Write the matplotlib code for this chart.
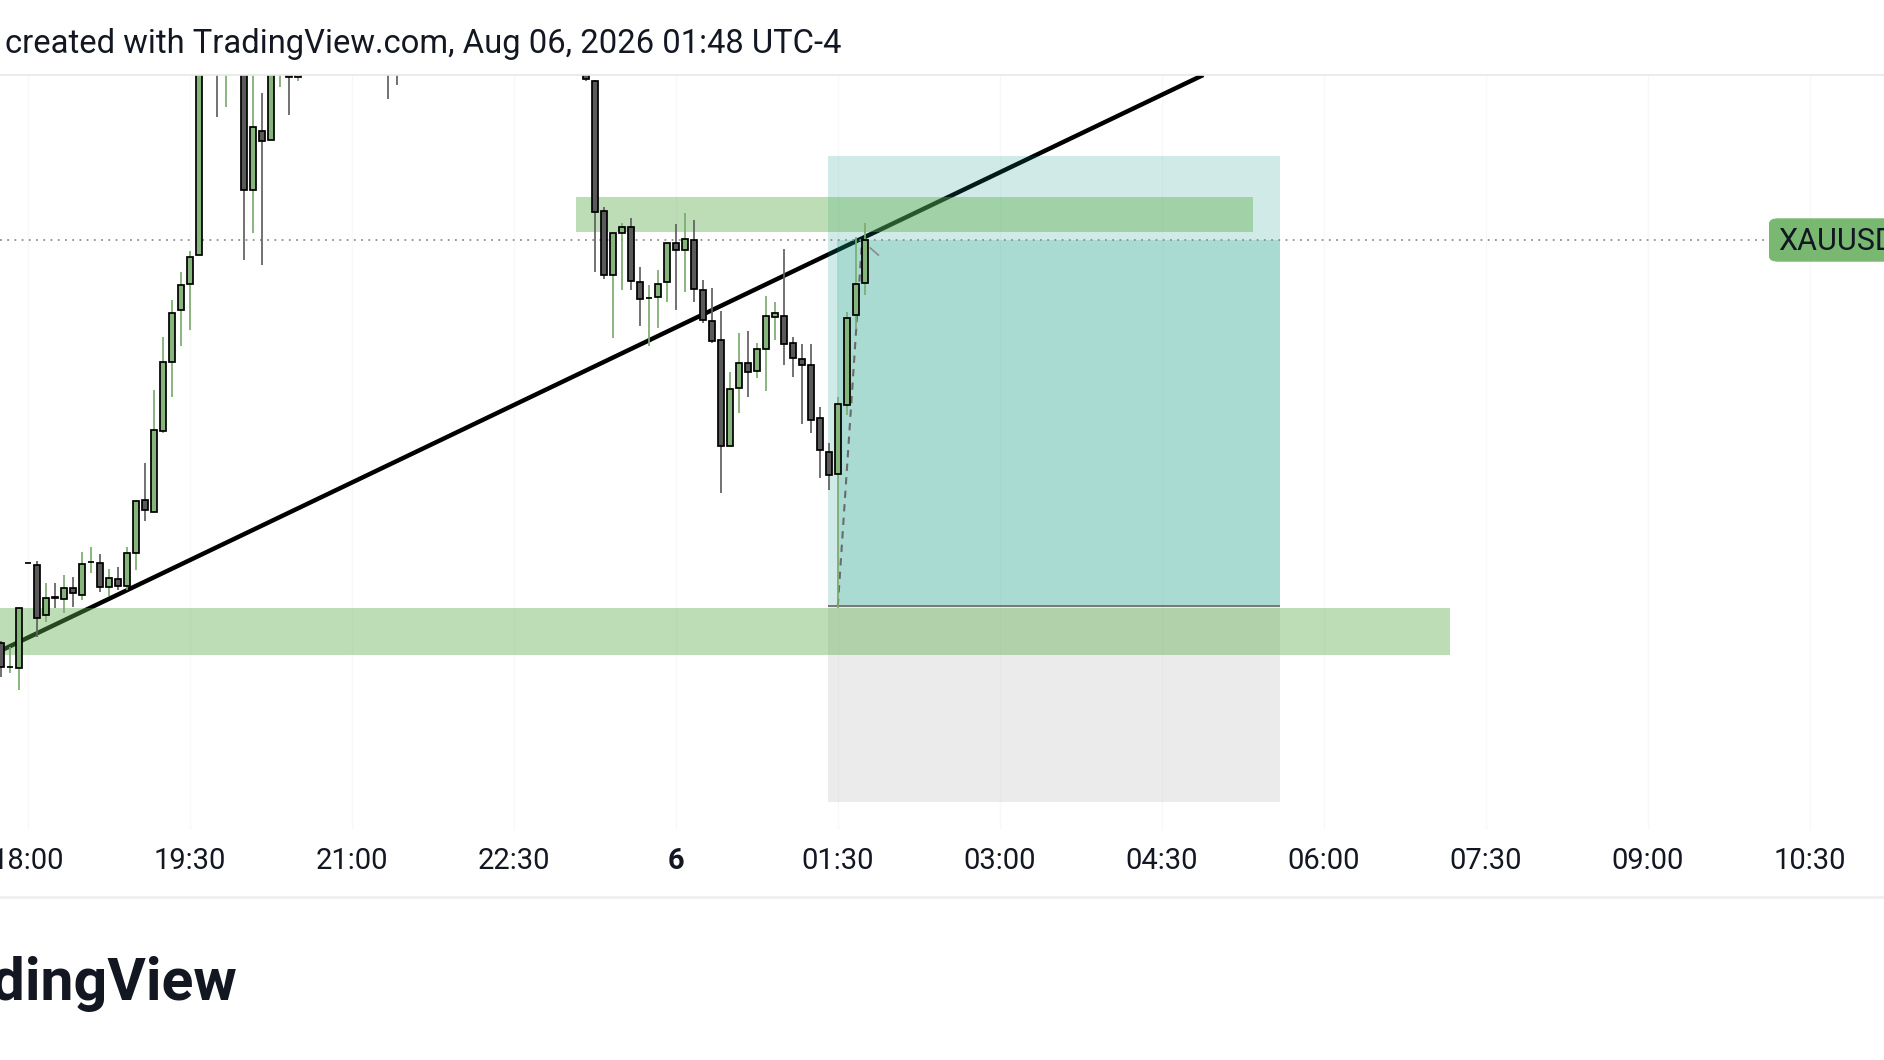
import matplotlib
matplotlib.use("Agg")
import matplotlib.pyplot as plt
from matplotlib.patches import Rectangle, FancyBboxPatch
from matplotlib.lines import Line2D

plt.rcParams['font.family'] = ['Roboto', 'DejaVu Sans']

# ---------------- data (5-minute bars, bar 0 = 18:00) ----------------
bar_idx = [-3, -2, -1, 0, 1, 2, 3, 4, 5, 6, 7, 8, 9, 10, 11, 12, 13, 14, 15, 16, 17, 18, 19,
           21, 22, 24, 25, 26, 27, 28, 29, 30, 40, 41,
           62, 63, 64, 65, 66, 67, 68, 69, 70, 71, 72, 73, 74, 75, 76, 77, 78, 79, 80,
           81, 82, 83, 84, 85, 86, 87, 88, 89, 90, 91, 92, 93]
opens = [3393.2, 3390.8, 3390.7, 3401.2, 3401.0, 3396.0, 3397.8, 3397.6, 3398.7, 3398.0, 3401.3,
         3401.2, 3398.8, 3399.6, 3398.9, 3402.2, 3407.5, 3406.3, 3414.4, 3421.3, 3426.5, 3429.1,
         3432.0,
         3456.0, 3452.0, 3455.0, 3438.5, 3444.4, 3443.5, 3452.5, 3453.0, 3449.8, 3455.0, 3453.0,
         3451.0, 3449.4, 3436.4, 3430.0, 3434.2, 3434.8, 3429.3, 3427.7, 3427.8, 3429.3, 3433.2,
         3432.5, 3433.5, 3428.5, 3425.4, 3423.5, 3412.9, 3418.7, 3421.2, 3420.4, 3422.6, 3425.8,
         3425.9, 3423.2, 3421.6, 3421.0, 3415.7, 3412.3, 3410.1, 3417.0, 3426.0, 3429.2]
highs = [3393.4, 3392.8, 3396.7, 3401.3, 3401.4, 3399.2, 3399.2, 3400.0, 3399.8, 3402.3, 3402.8,
         3402.1, 3400.6, 3400.8, 3402.8, 3407.5, 3411.2, 3418.5, 3423.8, 3427.5, 3430.3, 3432.4,
         3458.0,
         3458.0, 3456.0, 3456.0, 3452.0, 3448.2, 3454.0, 3455.0, 3454.0, 3453.0, 3456.0, 3454.0,
         3452.0, 3449.5, 3436.8, 3434.2, 3435.2, 3435.7, 3430.8, 3429.0, 3430.5, 3433.2, 3435.1,
         3436.2, 3435.5, 3429.5, 3428.7, 3426.4, 3420.3, 3424.2, 3424.4, 3423.2, 3427.9, 3427.3,
         3432.6, 3423.8, 3423.1, 3423.1, 3416.8, 3413.2, 3417.8, 3426.3, 3433.8, 3435.2]
lows = [3389.8, 3390.2, 3388.5, 3401.2, 3393.8, 3395.3, 3396.7, 3396.2, 3396.8, 3397.5, 3400.2,
        3398.3, 3397.9, 3398.5, 3398.5, 3400.5, 3405.4, 3406.3, 3414.2, 3417.8, 3422.9, 3424.5,
        3432.0,
        3445.8, 3446.8, 3431.5, 3434.2, 3431.0, 3443.5, 3448.8, 3446.0, 3449.4, 3447.6, 3449.0,
        3449.4, 3430.3, 3429.6, 3423.7, 3428.5, 3428.5, 3424.9, 3422.9, 3424.7, 3427.3, 3426.5,
        3428.3, 3427.3, 3425.2, 3423.2, 3408.2, 3412.9, 3416.2, 3417.8, 3419.7, 3418.4, 3423.5,
        3421.0, 3419.8, 3415.1, 3414.2, 3409.7, 3408.5, 3396.7, 3416.0, 3424.7, 3428.0]
closes = [3390.8, 3390.8, 3396.7, 3401.2, 3395.7, 3397.7, 3397.7, 3398.7, 3398.2, 3401.1, 3401.3,
          3398.8, 3399.7, 3398.9, 3402.2, 3407.4, 3406.5, 3414.5, 3421.3, 3426.2, 3429.0, 3431.8,
          3457.0,
          3451.5, 3455.0, 3438.5, 3444.8, 3443.4, 3452.5, 3454.0, 3449.8, 3452.0, 3452.0, 3451.0,
          3449.6, 3436.3, 3430.0, 3434.2, 3434.8, 3429.4, 3427.6, 3427.7, 3429.1, 3433.2, 3432.5,
          3433.6, 3428.6, 3425.5, 3423.4, 3412.9, 3418.6, 3421.2, 3420.3, 3422.6, 3425.9, 3426.2,
          3423.1, 3421.7, 3421.0, 3415.5, 3412.5, 3410.0, 3417.1, 3425.7, 3429.1, 3433.5]

tick_bars = [0, 18, 36, 54, 72, 90, 108, 126, 144, 162, 180, 198]
tick_labels = ["18:00", "19:30", "21:00", "22:30", "6", "01:30", "03:00", "04:30",
               "06:00", "07:30", "09:00", "10:30"]

last_price = 3433.5
symbol = "XAUUSD"

# drawings
trend_bars = [-1, 93]
trend_prices = [3393.3, 3433.8]
upper_zone_bars = [60.9, 136.1]
upper_zone_prices = [3434.3, 3437.8]
lower_zone_bars = [-6, 158.0]
lower_zone_prices = [3392.0, 3396.75]
pos_bars = [88.9, 139.1]
pos_entry_bar = 90
pos_target = 3441.9
pos_entry = 3396.9
pos_stop = 3377.3

title = "created with TradingView.com, Aug 06, 2026 01:48 UTC-4"

# ---------------- figure ----------------
W, H = 1884, 1060
fig = plt.figure(figsize=(W / 100, H / 100), dpi=100)
fig.patch.set_facecolor("white")

top_px, bot_px = 75, 830
ax = fig.add_axes([0, 1 - bot_px / H, 1, (bot_px - top_px) / H])
ax.set_xlim(-3.089, 206.24)
ax.set_ylim(3374.5, 3450.0)
for s in ax.spines.values():
    s.set_visible(False)
ax.set_yticks([])

# grid
for tb in tick_bars:
    ax.axvline(tb, color="#f8f8f8", lw=1.0, zorder=0)

# trend line (under drawings)
ax.axline((trend_bars[0], trend_prices[0]), (trend_bars[1], trend_prices[1]),
          color="black", lw=3.2, zorder=2, solid_capstyle="butt")

# position tool
teal = (8 / 255, 153 / 255, 129 / 255, 0.19)
ax.add_patch(Rectangle((pos_bars[0], pos_entry), pos_bars[1] - pos_bars[0],
                       pos_target - pos_entry, facecolor=teal, edgecolor="none", zorder=3))
ax.add_patch(Rectangle((pos_entry_bar - 0.1, pos_entry), pos_bars[1] - pos_entry_bar + 0.1,
                       last_price - pos_entry, facecolor=teal, edgecolor="none", zorder=3))
ax.add_patch(Rectangle((pos_bars[0], pos_stop), pos_bars[1] - pos_bars[0],
                       pos_entry - pos_stop, facecolor=(0.62, 0.62, 0.62, 0.2),
                       edgecolor="none", zorder=3))
ax.hlines(pos_entry, pos_bars[0], pos_bars[1], color="#777777", lw=1.4, zorder=3.5)

# zones
zone_col = (93 / 255, 173 / 255, 76 / 255, 0.41)
ax.add_patch(Rectangle((upper_zone_bars[0], upper_zone_prices[0]),
                       upper_zone_bars[1] - upper_zone_bars[0],
                       upper_zone_prices[1] - upper_zone_prices[0],
                       facecolor=zone_col, edgecolor="none", zorder=4))
ax.add_patch(Rectangle((lower_zone_bars[0], lower_zone_prices[0]),
                       lower_zone_bars[1] - lower_zone_bars[0],
                       lower_zone_prices[1] - lower_zone_prices[0],
                       facecolor=zone_col, edgecolor="none", zorder=4))

# last price dotted line
ax.axhline(last_price, xmin=0, xmax=1769 / W, color="#8f8f8f", lw=1.3,
           linestyle=(0, (1, 3.0)), zorder=4.5)

# dashed entry -> current line
ax.plot([pos_entry_bar, bar_idx[-1] - 0.3], [pos_entry, last_price], color="#6a6a6a",
        lw=1.5, linestyle=(0, (3.5, 3)), zorder=4.6)
ax.plot([bar_idx[-1] + 0.6, bar_idx[-1] + 1.5], [last_price - 0.8, last_price - 1.5],
        color="#8a8a8a", lw=1.2, zorder=4.6)

# candles
bull_fill, bear_fill = "#86b57b", "#5a5a5a"
bull_wick, bear_wick = "#7cab71", "#606060"
bw = 0.62
for i, o, h, l, c in zip(bar_idx, opens, highs, lows, closes):
    bull = c >= o
    ax.vlines(i, l, h, color=bull_wick if bull else bear_wick, lw=1.25, zorder=5)
    ax.add_patch(Rectangle((i - bw / 2, min(o, c)), bw, abs(c - o),
                           facecolor=bull_fill if bull else bear_fill,
                           edgecolor="black", lw=1.25, zorder=6))

# x ticks
ax.set_xticks(tick_bars)
ax.set_xticklabels(tick_labels)
ax.tick_params(axis="x", length=0, pad=12.5, labelsize=21, labelcolor="#131722")
for lab in ax.get_xticklabels():
    if lab.get_text() == "6":
        lab.set_fontweight("bold")

# figure decorations
fig.add_artist(Line2D([0, 1], [1 - 75 / H, 1 - 75 / H], color="#e8e8e8", lw=1.2))
fig.add_artist(Line2D([0, 1], [1 - 897 / H, 1 - 897 / H], color="#efefef", lw=2.0))
fig.text(4.6 / W, 1 - 53.3 / H, title, fontsize=23.6, color="#131722",
         ha="left", va="baseline")
fig.text(238 / W, 1 - 1000 / H, "TradingView", fontsize=42.5, fontweight="bold",
         color="#131722", ha="right", va="baseline")

# price label
fig.add_artist(FancyBboxPatch((1769 / W, 1 - 261.7 / H), 140 / W, 43.4 / H,
                              boxstyle="round,pad=0,rounding_size=0.005",
                              facecolor="#79b870", edgecolor="none",
                              transform=fig.transFigure, zorder=10))
fig.text(1778 / W, 1 - 241 / H, symbol, fontsize=22, color="#131722",
         ha="left", va="center", zorder=11)

fig.savefig("out.png", dpi=100, facecolor="white")
